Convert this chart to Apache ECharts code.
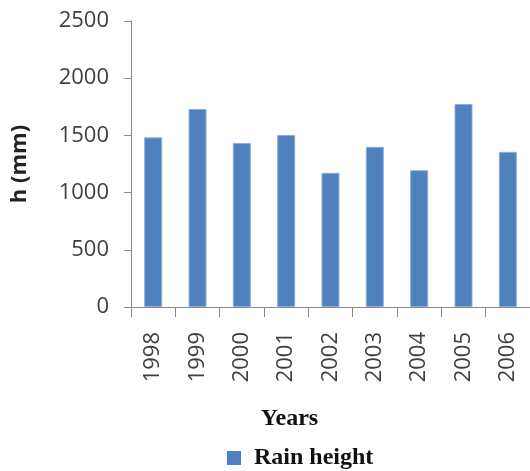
<!DOCTYPE html>
<html>
<head>
<meta charset="utf-8">
<style>
  html, body { margin: 0; padding: 0; background: #ffffff; }
  #chart { width: 530px; height: 471px; }
</style>
<script src="https://cdn.jsdelivr.net/npm/echarts@6/dist/echarts.min.js"></script>
</head>
<body>
<div id="chart"></div>
<script>
// Annual rainfall depth, 1998–2006
const years = ['1998', '1999', '2000', '2001', '2002', '2003', '2004', '2005', '2006'];
const rainHeight = [1483, 1731, 1434, 1504, 1173, 1400, 1196, 1774, 1356];
const yTicks = [0, 500, 1000, 1500, 2000, 2500];

const axisGray = '#898989';
const labelGray = '#404040';

const chart = echarts.init(document.getElementById('chart'), null, { renderer: 'canvas' });

chart.setOption({
  animation: false,
  backgroundColor: '#ffffff',
  grid: { left: 131, top: 21, width: 400, bottom: 164, containLabel: false },
  legend: {
    data: [{ name: 'Rain height', itemStyle: { borderWidth: 0 } }],
    left: 227,
    top: 444,
    icon: 'rect',
    itemWidth: 14,
    itemHeight: 14,
    itemGap: 10,
    padding: 0,
    textStyle: {
      fontFamily: 'Liberation Serif',
      fontWeight: 'bold',
      fontSize: 24,
      lineHeight: 28,
      color: '#111111',
      padding: [0, 0, 0, 8]
    }
  },
  xAxis: {
    type: 'category',
    data: years,
    boundaryGap: true,
    name: 'Years',
    nameLocation: 'middle',
    nameGap: 100,
    nameTextStyle: {
      fontFamily: 'Liberation Serif',
      fontWeight: 'bold',
      fontSize: 24,
      color: '#111111',
      padding: [0, 82, 0, 0]
    },
    axisLine: { show: true, lineStyle: { color: axisGray, width: 1 } },
    axisTick: { show: true, length: 10, alignWithLabel: false, lineStyle: { color: axisGray } },
    axisLabel: {
      rotate: 90,
      margin: 25,
      fontFamily: 'Open Sans',
      fontSize: 22,
      color: labelGray
    },
    splitLine: { show: false }
  },
  yAxis: {
    type: 'value',
    min: yTicks[0],
    max: yTicks[yTicks.length - 1],
    interval: yTicks[1] - yTicks[0],
    name: 'h (mm)',
    nameLocation: 'middle',
    nameGap: 100,
    nameRotate: 90,
    nameTextStyle: {
      fontFamily: 'Open Sans',
      fontWeight: 'bold',
      fontSize: 22,
      color: '#222222'
    },
    axisLine: { show: true, lineStyle: { color: axisGray, width: 1 } },
    axisTick: { show: true, length: 7, lineStyle: { color: axisGray } },
    axisLabel: {
      margin: 22,
      fontFamily: 'Open Sans',
      fontSize: 22,
      color: labelGray,
      formatter: (v) => String(v)
    },
    splitLine: { show: false }
  },
  series: [{
    name: 'Rain height',
    type: 'bar',
    data: rainHeight,
    barWidth: 18,
    itemStyle: {
      color: '#4f81bd',
      borderColor: '#8eaedb',
      borderWidth: 1
    }
  }]
});
</script>
</body>
</html>
